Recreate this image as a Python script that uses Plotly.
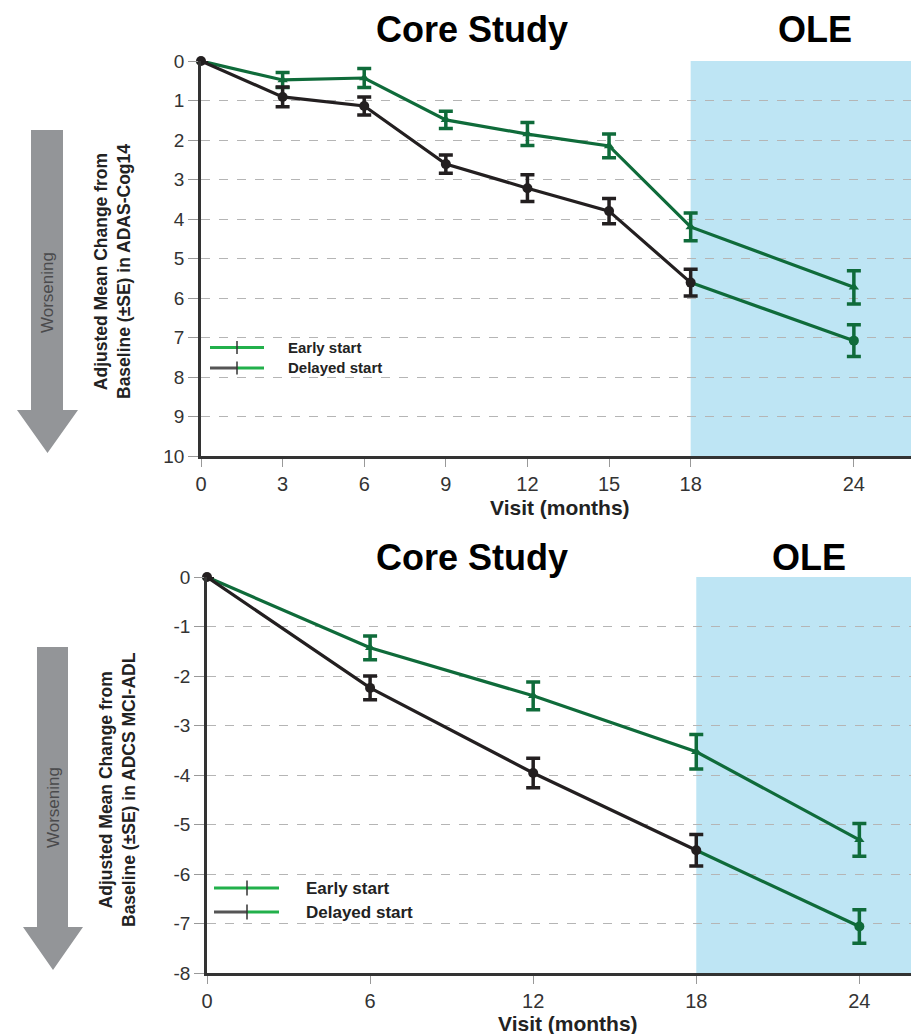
import plotly.graph_objects as go

# ---------------- data ----------------
months_top = [0, 3, 6, 9, 12, 15, 18, 24]
early_top = [0, 0.48, 0.43, 1.49, 1.85, 2.15, 4.2, 5.73]
early_top_se = [None, 0.19, 0.24, 0.22, 0.29, 0.3, 0.35, 0.42]
delayed_top = [0, 0.91, 1.14, 2.61, 3.22, 3.8, 5.61, 7.08]
delayed_top_se = [None, 0.25, 0.23, 0.23, 0.34, 0.32, 0.34, 0.4]

months_bot = [0, 6, 12, 18, 24]
early_bot = [0, -1.43, -2.4, -3.53, -5.31]
early_bot_se = [None, 0.24, 0.28, 0.35, 0.33]
delayed_bot = [0, -2.24, -3.96, -5.52, -7.06]
delayed_bot_se = [None, 0.24, 0.3, 0.32, 0.34]

top_xticks = [0, 3, 6, 9, 12, 15, 18, 24]
bot_xticks = [0, 6, 12, 18, 24]
top_yticks = list(range(0, 11))
bot_yticks = list(range(0, -9, -1))

series_names = ["Early start", "Delayed start"]
panel_titles = ["Core Study", "OLE"]
ole_start = 18

GREEN = "#0f6b3a"
BLACK = "#231f20"
LEG_GREEN = "#22b04b"
LEG_GRAY = "#555555"
SHADE = "#bee5f4"
ARROW = "#939598"

W, H = 911, 1034


def px(x):
    return x / W


def py(y):
    return 1 - y / H


fig = go.Figure()


def add_panel(xa, ya, months, early, early_se, delayed, delayed_se):
    # early start (green, triangle markers)
    fig.add_trace(go.Scatter(
        x=months, y=early, mode="lines+markers", xaxis=xa, yaxis=ya,
        line=dict(color=GREEN, width=3.2),
        marker=dict(symbol="triangle-up", size=9, color=GREEN),
        error_y=dict(type="data", array=early_se, visible=True, color=GREEN,
                     thickness=3.5, width=7),
        cliponaxis=False, showlegend=False, name=series_names[0]))
    # delayed start in OLE (switch to active -> green)
    k = months.index(ole_start)
    fig.add_trace(go.Scatter(
        x=months[k:], y=delayed[k:], mode="lines", xaxis=xa, yaxis=ya,
        line=dict(color=GREEN, width=3.2), cliponaxis=False, showlegend=False,
        name=series_names[1]))
    fig.add_trace(go.Scatter(
        x=months[k + 1:], y=delayed[k + 1:], mode="markers", xaxis=xa, yaxis=ya,
        marker=dict(symbol="circle", size=10, color=GREEN),
        error_y=dict(type="data", array=delayed_se[k + 1:], visible=True,
                     color=GREEN, thickness=3.5, width=7),
        cliponaxis=False, showlegend=False, name=series_names[1]))
    # delayed start in core study (black)
    fig.add_trace(go.Scatter(
        x=months[:k + 1], y=delayed[:k + 1], mode="lines+markers", xaxis=xa, yaxis=ya,
        line=dict(color=BLACK, width=3.2),
        marker=dict(symbol="circle", size=10, color=BLACK),
        error_y=dict(type="data", array=delayed_se[:k + 1], visible=True,
                     color=BLACK, thickness=3.5, width=7),
        cliponaxis=False, showlegend=False, name=series_names[1]))


add_panel("x", "y", months_top, early_top, early_top_se, delayed_top, delayed_top_se)
add_panel("x2", "y2", months_bot, early_bot, early_bot_se, delayed_bot, delayed_bot_se)

xfont = dict(family="Liberation Sans Narrow, Arial Narrow, Liberation Sans, sans-serif",
             size=20, color="#333333")
yfont = dict(family="Liberation Sans, Arial, sans-serif", size=19, color="#333333")

common_x = dict(showline=True, linecolor="#333333", linewidth=2.5, showgrid=False,
                zeroline=False, ticks="outside", ticklen=8, tickwidth=1.2,
                tickcolor="#999999", tickfont=xfont, automargin=False, fixedrange=True)
common_y = dict(showline=True, linecolor="#333333", linewidth=2.5, showgrid=True,
                gridcolor="#b5b5b5", griddash="dash", gridwidth=1, zeroline=False,
                ticks="outside", ticklen=10, tickwidth=1.2, tickcolor="#999999",
                tickfont=yfont, automargin=False, fixedrange=True)

fig.update_layout(
    width=W, height=H, margin=dict(l=0, r=0, t=0, b=0),
    paper_bgcolor="white", plot_bgcolor="rgba(0,0,0,0)",
    xaxis=dict(common_x, domain=[px(201), 1], range=[0, 26.1],
               tickvals=top_xticks, ticktext=[str(v) for v in top_xticks],
               anchor="y"),
    yaxis=dict(common_y, domain=[py(456), py(61)], range=[10, 0],
               tickvals=top_yticks, ticktext=[str(v) for v in top_yticks],
               anchor="x"),
    xaxis2=dict(common_x, domain=[px(207), 1], range=[0, 25.9],
                tickvals=bot_xticks, ticktext=[str(v) for v in bot_xticks],
                anchor="y2"),
    yaxis2=dict(common_y, domain=[py(973), py(577)], range=[-8, 0],
                tickvals=bot_yticks, ticktext=[str(v) for v in bot_yticks],
                anchor="x2"),
)

shapes = []
# OLE shaded regions
shapes.append(dict(type="rect", xref="x", yref="y domain", x0=ole_start, x1=26.1,
                   y0=0, y1=1, fillcolor=SHADE, line=dict(width=0), layer="below"))
shapes.append(dict(type="rect", xref="x2", yref="y2 domain", x0=ole_start, x1=25.9,
                   y0=0, y1=1, fillcolor=SHADE, line=dict(width=0), layer="below"))


def arrow_path(xl, xr, ytop, yhead, hl, hr, ytip):
    xc = (hl + hr) / 2
    pts = [(xl, ytop), (xr, ytop), (xr, yhead), (hr, yhead), (xc, ytip),
           (hl, yhead), (xl, yhead)]
    return "M " + " L ".join(f"{px(a):.5f},{py(b):.5f}" for a, b in pts) + " Z"


shapes.append(dict(type="path", xref="paper", yref="paper",
                   path=arrow_path(31, 63, 130, 410, 17, 78, 453),
                   fillcolor=ARROW, line=dict(width=0)))
shapes.append(dict(type="path", xref="paper", yref="paper",
                   path=arrow_path(37, 68, 647, 927, 23, 83, 970),
                   fillcolor=ARROW, line=dict(width=0)))


def legend_shapes(x0, xm, x1, y1, y2, th):
    out = []
    out.append(dict(type="line", xref="paper", yref="paper", x0=px(x0), x1=px(x1),
                    y0=py(y1), y1=py(y1), line=dict(color=LEG_GREEN, width=3)))
    out.append(dict(type="line", xref="paper", yref="paper", x0=px(x0), x1=px(xm),
                    y0=py(y2), y1=py(y2), line=dict(color=LEG_GRAY, width=3)))
    out.append(dict(type="line", xref="paper", yref="paper", x0=px(xm), x1=px(x1),
                    y0=py(y2), y1=py(y2), line=dict(color=LEG_GREEN, width=3)))
    for yy in (y1, y2):
        out.append(dict(type="line", xref="paper", yref="paper", x0=px(xm), x1=px(xm),
                        y0=py(yy - th), y1=py(yy + th), line=dict(color="#333333", width=1.5)))
    return out


shapes += legend_shapes(210, 237, 264, 347.5, 368, 6.5)
shapes += legend_shapes(214, 247, 279, 888, 912, 7.5)

fig.update_layout(shapes=shapes)

ann = []
TF = "Liberation Sans, Arial, sans-serif"


def text(x, y, s, size, color="#000000", angle=0, xanchor="center", bold=True,
         family=TF):
    ann.append(dict(xref="paper", yref="paper", x=px(x), y=py(y),
                    text=f"<b>{s}</b>" if bold else s, showarrow=False,
                    font=dict(family=family, size=size, color=color),
                    textangle=angle, xanchor=xanchor, yanchor="middle"))


# panel headers
text(472, 30, panel_titles[0], 36)
text(815, 30, panel_titles[1], 36)
text(472, 557, panel_titles[0], 36)
text(809, 557, panel_titles[1], 36)

# x axis titles
NARROW = "Liberation Sans Narrow, Arial Narrow, Liberation Sans, sans-serif"
text(560, 507, "Visit (months)", 21, "#222222", family=NARROW)
text(568, 1023, "Visit (months)", 21, "#222222", family=NARROW)

# y axis titles
text(112, 272, "Adjusted Mean Change from<br>Baseline (±SE) in ADAS-Cog14", 17.5,
     "#222222", angle=-90)
text(117, 790, "Adjusted Mean Change from<br>Baseline (±SE) in ADCS MCI-ADL", 17.5,
     "#222222", angle=-90)

# worsening labels
text(47, 293, "Worsening", 17, "#4a4a4c", angle=-90, bold=False)
text(53, 808, "Worsening", 17, "#4a4a4c", angle=-90, bold=False)

# legends
text(286, 347.5, series_names[0], 15, "#222222", xanchor="left")
text(286, 368, series_names[1], 15, "#222222", xanchor="left")
text(304, 888, series_names[0], 17, "#222222", xanchor="left")
text(304, 912, series_names[1], 17, "#222222", xanchor="left")

fig.update_layout(annotations=ann)

fig.write_html("out.html")
